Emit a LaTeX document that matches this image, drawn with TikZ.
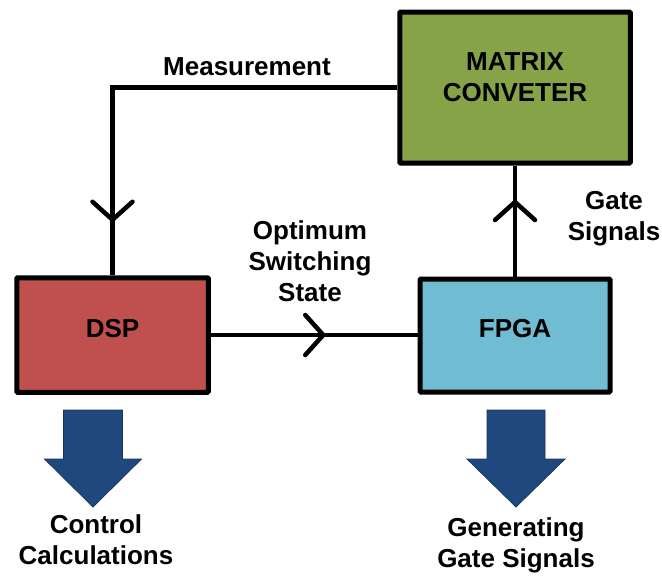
\documentclass[tikz,border=0pt]{standalone}
\usepackage{fontspec}
\setmainfont{Liberation Sans}
\usetikzlibrary{decorations.markings}

\definecolor{mcgreen}{HTML}{86A447}
\definecolor{dspred}{HTML}{C0504D}
\definecolor{fpgablue}{HTML}{70BDD3}
\definecolor{bigarrow}{HTML}{21487E}
\definecolor{bigarrowedge}{HTML}{17355C}

\tikzset{
  block/.style={draw=black, line width=5pt, rounded corners=1pt, inner sep=0pt},
  lbl/.style={font=\fontsize{26}{31}\selectfont\bfseries, align=center, inner sep=0pt},
  wire/.style={line width=4.5pt, draw=black},
  chevron at/.style={postaction={decorate}, decoration={markings,
      mark=at position #1 with {\draw[line width=4.5pt, line cap=round, line join=miter]
        (-18pt,20pt) -- (0pt,0pt) -- (-18pt,-20pt);}}},
  downarrow/.style={fill=bigarrow, draw=bigarrowedge, line width=0.8pt, line join=miter},
}

\begin{document}
\begin{tikzpicture}[x=1pt, y=-1pt]
  \useasboundingbox (0,0) rectangle (662,576);

  % processing blocks
  \node[block, fill=mcgreen, minimum width=230.5pt, minimum height=151pt]
    (mc) at (515,87.5) {};
  \node[block, fill=dspred, minimum width=191.5pt, minimum height=114.5pt]
    (dsp) at (112.5,335) {};
  \node[block, fill=fpgablue, minimum width=190pt, minimum height=113pt]
    (fpga) at (515,335.5) {};

  % block titles
  \node[lbl] (mctext) at ([yshift=10pt]mc.center) {MATRIX\\CONVETER};
  \node[lbl] (dsptext) at ([yshift=6pt]dsp.center) {DSP};
  \node[lbl] (fpgatext) at ([yshift=7pt]fpga.center) {FPGA};

  % signal connectors
  \draw[wire, chevron at=-55.5pt] (mc.west) -| (dsp.north);
  \draw[wire, chevron at=112.5pt] (dsp.east) -- (fpga.west |- dsp.east);
  \draw[wire, chevron at=-36.5pt] (fpga.north) -- (mc.south);

  % connector labels
  \node[lbl] (lmeas) at (247,67) {Measurement};
  \node[lbl] (lopt) at (310,261) {Optimum\\Switching\\State};
  \node[lbl] (lgate) at (614,219) {Gate\\Signals};

  % output arrows
  \draw[downarrow] (63.5,410) -- (122.5,410) -- (122.5,459) -- (141.5,459)
    -- (93,507) -- (44.5,459) -- (63.5,459) -- cycle;
  \draw[downarrow] (487,410) -- (545,410) -- (545,459) -- (565,459)
    -- (516,507) -- (467,459) -- (487,459) -- cycle;

  % output labels
  \node[lbl] (lctrl) at (96,540) {Control\\Calculations};
  \node[lbl] (lgen) at (516,545) {Generating\\Gate Signals};
\end{tikzpicture}
\end{document}
